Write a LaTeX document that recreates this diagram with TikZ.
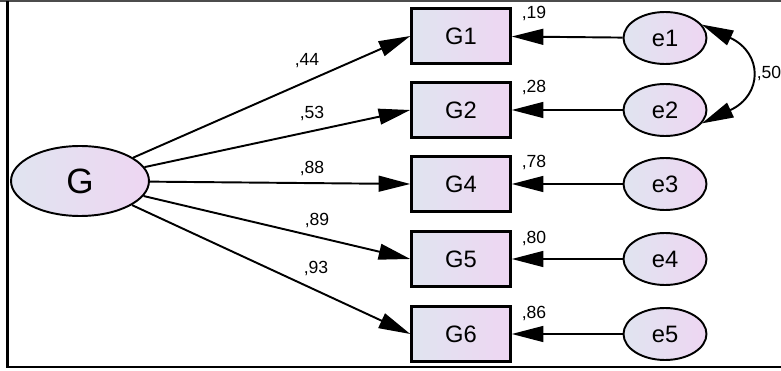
\documentclass[tikz,border=0pt]{standalone}
\usepackage{fontspec}
\setmainfont{Liberation Sans}
\usetikzlibrary{shapes.geometric,arrows.meta}
\definecolor{fillA}{RGB}{224,228,240}
\definecolor{fillB}{RGB}{238,214,242}
\begin{document}
\begin{tikzpicture}[x=0.02cm,y=0.02cm,
		latent/.style={draw,ellipse,line width=1.1pt,left color=fillA,right color=fillB,inner sep=0pt},
		err/.style={latent,minimum width=1.66cm,minimum height=1.04cm,font=\fontsize{13.5}{15}\selectfont},
		obs/.style={draw,rectangle,line width=1.4pt,left color=fillA,right color=fillB,minimum width=1.98cm,minimum height=1.1cm,inner sep=0pt,font=\fontsize{13.5}{15}\selectfont},
		reg/.style={line width=1.1pt,-{Triangle[length=18pt,width=9pt]}},
		coef/.style={inner sep=0pt,font=\fontsize{10}{12}\selectfont}]
		\useasboundingbox (0,0) rectangle (781,-371);
		\draw[black!70,line width=1.1pt] (0,-1) -- (781,-1);
		\draw[line width=1.7pt] (7.5,-1) -- (7.5,-367) -- (781,-367);
		\node[latent,minimum width=2.76cm,minimum height=1.4cm,font=\fontsize{20}{22}\selectfont] (G) at (80,-181) {G};
		\node[obs] (G1) at (461,-36) {G1};
		\node[obs] (G2) at (461,-110) {G2};
		\node[obs] (G4) at (461,-184) {G4};
		\node[obs] (G5) at (461,-259) {G5};
		\node[obs] (G6) at (461,-334) {G6};
		\node[err] (e1) at (665,-38) {e1};
		\node[err] (e2) at (665,-110) {e2};
		\node[err] (e3) at (665,-184) {e3};
		\node[err] (e4) at (665,-259) {e4};
		\node[err] (e5) at (665,-334) {e5};
		\draw[reg] (G) -- (G1.west);
		\draw[reg] (G) -- (G2.west);
		\draw[reg] (G) -- (G4.west);
		\draw[reg] (G) -- (G5.west);
		\draw[reg] (G) -- (G6.west);
		\draw[reg] (e1) -- (G1);
		\draw[reg] (e2) -- (G2);
		\draw[reg] (e3) -- (G4);
		\draw[reg] (e4) -- (G5);
		\draw[reg] (e5) -- (G6);
		\draw[line width=1.1pt,{Triangle[length=18pt,width=9pt]}-{Triangle[length=18pt,width=9pt]}] (e1.20) to[out=-25,in=25,looseness=1.75] (e2.-20);
		\node[coef] (l44) at (307,-61) {,44};
		\node[coef] (l53) at (312,-113) {,53};
		\node[coef] (l88) at (312,-168) {,88};
		\node[coef] (l89) at (317,-220) {,89};
		\node[coef] (l93) at (316,-268) {,93};
		\node[coef] (r19) at (534,-13) {,19};
		\node[coef] (r28) at (534,-87) {,28};
		\node[coef] (r78) at (534,-162) {,78};
		\node[coef] (r80) at (534,-238) {,80};
		\node[coef] (r86) at (534,-313) {,86};
		\node[coef] (r50) at (769,-73) {,50};
		\end{tikzpicture}
\end{document}
